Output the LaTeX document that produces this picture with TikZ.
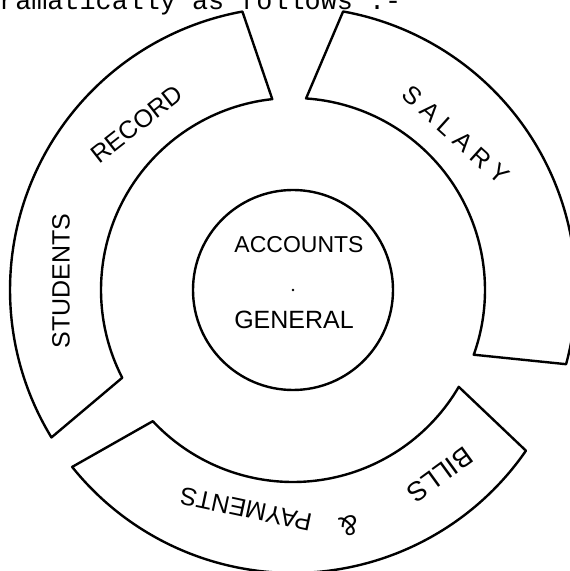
\documentclass[tikz,border=0pt]{standalone}
\usepackage{fontspec}
\setmainfont{Liberation Sans}
\newfontfamily\typefont{Liberation Mono}
\usetikzlibrary{calc}
\begin{document}
\begin{tikzpicture}[x=1pt,y=1pt,
  seg/.style={draw=black, line width=2.4pt, line join=round},
  lbl/.style={inner sep=0pt, font=\fontsize{25}{30}\selectfont},
  headtext/.style={inner sep=0pt, anchor=base west, font=\typefont\fontsize{26.8}{30}\selectfont}]
\useasboundingbox (0,0) rectangle (570,571);
\clip (0,0) rectangle (570,571);
\coordinate (C) at (293,281);
% heading line (cut off at the top, as in the scan)
\node[headtext] (head) at (-1,561) {ramatically as follows :-};
% segment: STUDENTS RECORD
\draw[seg] ($(C)+(100.3:283)$) arc[start angle=100.3, end angle=211.4, radius=283]
  -- ($(C)+(207.2:192)$) arc[start angle=207.2, end angle=96.2, radius=192] -- cycle;
% segment: SALARY
\draw[seg] ($(C)+(79.8:283)$) arc[start angle=79.8, end angle=-15.2, radius=283]
  -- ($(C)+(-19.7:192)$) arc[start angle=-19.7, end angle=86.1, radius=192] -- cycle;
% segment: BILLS & PAYMENTS
\draw[seg] ($(C)+(-34.6:283)$) arc[start angle=-34.6, end angle=-141.3, radius=283]
  -- ($(C)+(-136.9:192)$) arc[start angle=-136.9, end angle=-30.3, radius=192] -- cycle;
% core circle
\node[draw, circle, line width=2.4pt, minimum size=200pt, inner sep=0pt] (core) at (C) {};
\fill (C) circle (1.4);
% labels
\node[lbl, font=\fontsize{23}{28}\selectfont] (acc) at (299,326) {ACCOUNTS};
\node[lbl] (gen) at (294,251) {GENERAL};
\node[lbl, rotate=38] (rec) at (137,447) {RECORD};
\node[lbl, rotate=90] (stu) at (61,290) {STUDENTS};
\node[lbl, rotate=-42] (sal) at (456,436) {S\hspace{7pt}A\hspace{7pt}L\hspace{7pt}A\hspace{7pt}R\hspace{7pt}Y};
\node[lbl, font=\fontsize{27}{30}\selectfont, rotate=216] (bil) at (440,96) {BILLS};
\node[lbl, font=\fontsize{28}{30}\selectfont, rotate=193] (amp) at (349,45) {\&};
\node[lbl, rotate=168] (pay) at (246,62) {PAYMENTS};
\end{tikzpicture}
\end{document}
